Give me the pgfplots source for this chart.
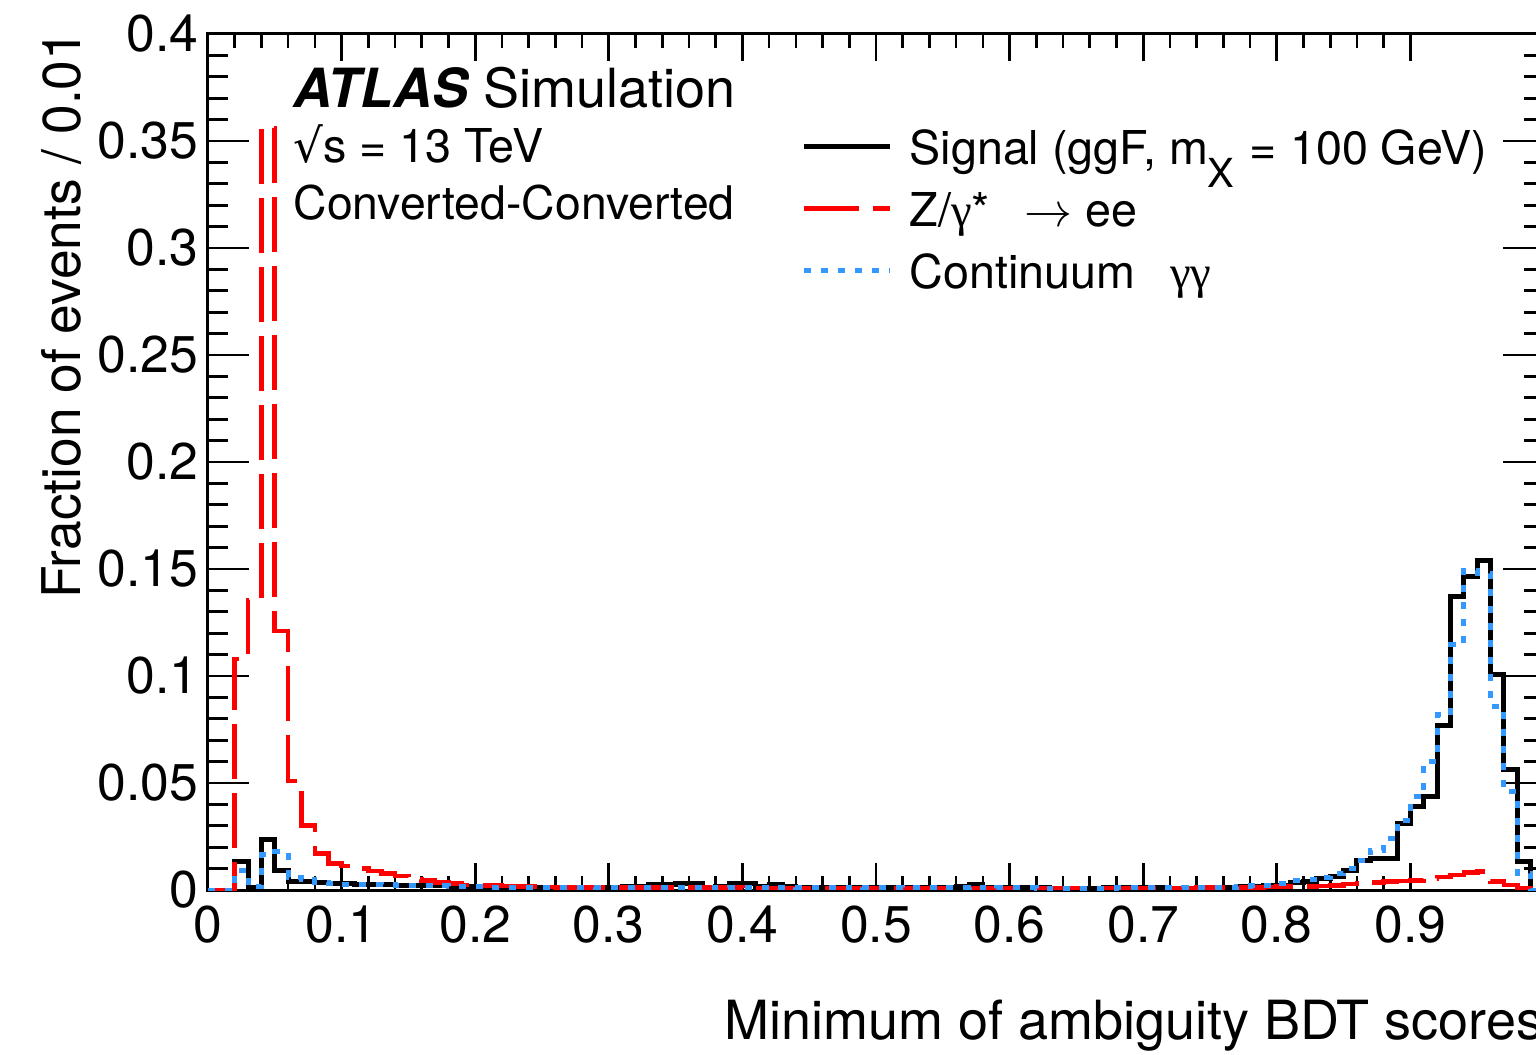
\documentclass[border=0pt]{standalone}
\usepackage{pgfplots}
\pgfplotsset{compat=1.18}
\usepackage{pgfplotstable}
\usepackage{amsmath}
\usepackage{fontspec}
\setmainfont{TeX Gyre Heros}
\newfontfamily\grk{Liberation Serif}
\newfontfamily\dvs{DejaVu Sans}
\definecolor{cblue}{RGB}{51,153,255}
\definecolor{cred}{RGB}{255,0,0}

\pgfplotstableread{
x sig zee cont
0.00 0 0 0
0.01 0 0 0
0.02 0.0132 0.108 0.0093
0.03 0.0014 0.1355 0.0015
0.04 0.0234 0.356 0.0164
0.05 0.0093 0.121 0.0178
0.06 0.0039 0.051 0.0060
0.07 0.0039 0.030 0.0047
0.08 0.0034 0.0171 0.0035
0.09 0.0030 0.0125 0.0030
0.10 0.0030 0.0112 0.0028
0.11 0.0028 0.0101 0.0026
0.12 0.0026 0.0089 0.0025
0.13 0.0025 0.0078 0.0024
0.14 0.0023 0.0065 0.0022
0.15 0.0022 0.0050 0.0021
0.16 0.0020 0.0043 0.0020
0.17 0.0019 0.0036 0.0019
0.18 0.0018 0.0029 0.0018
0.19 0.0016 0.0024 0.0016
0.20 0.0015 0.0022 0.0015
0.21 0.0014 0.0020 0.0014
0.22 0.0012 0.0018 0.0013
0.23 0.0012 0.0016 0.0013
0.24 0.0011 0.0015 0.0012
0.25 0.0010 0.0014 0.0012
0.26 0.0010 0.0013 0.0011
0.27 0.0009 0.0013 0.0011
0.28 0.0011 0.0012 0.0011
0.29 0.0010 0.0012 0.0010
0.30 0.0012 0.0012 0.0010
0.31 0.0016 0.0012 0.0010
0.32 0.0016 0.0011 0.0011
0.33 0.0026 0.0011 0.0010
0.34 0.0026 0.0011 0.0010
0.35 0.0030 0.0011 0.0011
0.36 0.0030 0.0011 0.0010
0.37 0.0012 0.0011 0.0011
0.38 0.0015 0.0011 0.0010
0.39 0.0030 0.0011 0.0011
0.40 0.0030 0.0010 0.0010
0.41 0.0018 0.0010 0.0011
0.42 0.0025 0.0010 0.0010
0.43 0.0018 0.0010 0.0011
0.44 0.0012 0.0010 0.0010
0.45 0.0010 0.0010 0.0011
0.46 0.0012 0.0010 0.0010
0.47 0.0014 0.0010 0.0010
0.48 0.0012 0.0010 0.0011
0.49 0.0010 0.0010 0.0010
0.50 0.0012 0.0010 0.0010
0.51 0.0011 0.0010 0.0011
0.52 0.0013 0.0010 0.0010
0.53 0.0012 0.0010 0.0010
0.54 0.0010 0.0010 0.0011
0.55 0.0014 0.0010 0.0010
0.56 0.0018 0.0010 0.0011
0.57 0.0025 0.0010 0.0012
0.58 0.0012 0.0010 0.0010
0.59 0.0010 0.0010 0.0011
0.60 0.0010 0.0010 0.0011
0.61 0.0011 0.0010 0.0010
0.62 0.0010 0.0010 0.0008
0.63 0.0008 0.0010 0.0007
0.64 0.0009 0.0010 0.0008
0.65 0.0008 0.0010 0.0008
0.66 0.0009 0.0010 0.0009
0.67 0.0010 0.0010 0.0009
0.68 0.0010 0.0010 0.0010
0.69 0.0010 0.0010 0.0010
0.70 0.0011 0.0010 0.0010
0.71 0.0010 0.0010 0.0010
0.72 0.0009 0.0010 0.0010
0.73 0.0008 0.0010 0.0011
0.74 0.0008 0.0011 0.0012
0.75 0.0012 0.0011 0.0013
0.76 0.0013 0.0011 0.0014
0.77 0.0015 0.0012 0.0016
0.78 0.0018 0.0013 0.0020
0.79 0.0020 0.0014 0.0023
0.80 0.0023 0.0016 0.0030
0.81 0.0034 0.0016 0.0044
0.82 0.0039 0.0017 0.0047
0.83 0.0055 0.0018 0.0060
0.84 0.0065 0.0020 0.0078
0.85 0.0093 0.0028 0.0100
0.86 0.0140 0.0032 0.0140
0.87 0.0148 0.0036 0.0184
0.88 0.0148 0.0040 0.0240
0.89 0.0312 0.0042 0.0325
0.90 0.0389 0.0045 0.0436
0.91 0.0436 0.0055 0.0600
0.92 0.0771 0.0060 0.0818
0.93 0.1370 0.0070 0.1145
0.94 0.1464 0.0081 0.1495
0.95 0.1542 0.0085 0.1480
0.96 0.1005 0.0039 0.0857
0.97 0.0561 0.0023 0.0460
0.98 0.0132 0.0010 0.0078
0.99 0 0 0
1.00 0 0 0
}\datatable

\begin{document}
\begin{tikzpicture}
\begin{axis}[
  at={(0,0)}, anchor=south west,
  scale only axis, width=400.8pt, height=256.8pt,
  xmin=0, xmax=1, ymin=0, ymax=0.4,
  axis line style={line width=0.9pt},
  tick style={line width=0.8pt, black},
  tick align=inside,
  xtick={0,0.1,0.2,0.3,0.4,0.5,0.6,0.7,0.8,0.9},
  ytick={0,0.05,0.1,0.15,0.2,0.25,0.3,0.35,0.4},
  minor x tick num=4, minor y tick num=4,
  xtick style={/pgfplots/major tick length=8.1pt, /pgfplots/minor tick length=4.2pt},
  ytick style={/pgfplots/major tick length=12.3pt, /pgfplots/minor tick length=6.1pt},
  scaled x ticks=false, scaled y ticks=false,
  /pgf/number format/assume math mode=true,
  /pgf/number format/fixed, /pgf/number format/precision=2,
  tick label style={font=\fontsize{15.5}{18}\selectfont},
  xticklabel style={anchor=north, inner sep=0pt, yshift=-4.5pt},
  yticklabel style={anchor=east, inner sep=0pt, xshift=-2.7pt},
  clip=true,
  legend cell align=left,
  legend image code/.code={\draw[#1] (0pt,2.2pt) -- (25.8pt,2.2pt);},
  legend style={draw=none, fill=none, inner sep=0pt, outer sep=0pt,
    at={(axis description cs:0.4446,0.8870)}, anchor=north west,
    row sep=4.6pt, column sep=5pt,
    font=\fontsize{14}{17}\selectfont,
    nodes={inner sep=0pt, text height=10pt, text depth=4pt}},
]
\addplot[const plot mark left, black, line width=1.5pt] table[x=x, y=sig] {\datatable};
\addlegendentry{Signal (ggF, m\raisebox{-0.5em}{\fontsize{12}{12}\selectfont X}\hspace{0.05em} = 100 GeV)}
\addplot[const plot mark left, cred, line width=1.4pt, dash pattern=on 16.5pt off 4.2pt] table[x=x, y=zee] {\datatable};
\addlegendentry{Z/{\grk γ}*\hspace{0.75em}$\rightarrow$ ee}
\addplot[const plot mark left, cblue, line width=1.5pt, dash pattern=on 2.1pt off 3pt] table[x=x, y=cont] {\datatable};
\addlegendentry{Continuum\hspace{0.75em}{\grk γγ}}
\end{axis}
\node[anchor=base west, inner sep=0pt, font=\fontsize{16.2}{19}\selectfont] at (25.5pt,234.6pt) {{\bfseries\itshape ATLAS} Simulation};
\node[anchor=base west, inner sep=0pt, font=\fontsize{14}{17}\selectfont] at (25.5pt,218.1pt) {{\dvs √}s = 13 TeV};
\node[anchor=base west, inner sep=0pt, font=\fontsize{13.9}{17}\selectfont] at (25.5pt,201pt) {Converted-Converted};
\node[anchor=base east, inner sep=0pt, rotate=90, font=\fontsize{16}{19}\selectfont] at (-38.1pt,258pt) {Fraction of events / 0.01};
\node[anchor=base east, inner sep=0pt, font=\fontsize{16.2}{19}\selectfont] at (400.8pt,-45pt) {Minimum of ambiguity BDT scores};
\pgfresetboundingbox
\path[use as bounding box] (-62.4pt,-49.2pt) rectangle (398.4pt,267pt);
\end{tikzpicture}
\end{document}
